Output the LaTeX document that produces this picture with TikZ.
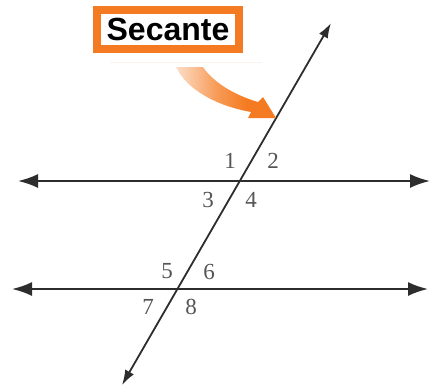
\documentclass[tikz,border=0pt]{standalone}
\usepackage{fontspec}
\setmainfont{Liberation Serif}
\newfontfamily\labfont{Liberation Sans}
\usetikzlibrary{arrows.meta}
\definecolor{secorange}{RGB}{245,123,34}
\definecolor{linegray}{RGB}{45,45,45}
\definecolor{numgray}{RGB}{85,85,85}
\pgfdeclarehorizontalshading{arrowfade}{100bp}{color(0bp)=(secorange!3!white); color(25bp)=(secorange!25!white); color(45bp)=(secorange!75!white); color(60bp)=(secorange); color(100bp)=(secorange)}
\tikzset{
  parline/.style={draw=linegray, line width=2pt, {Latex[length=20pt,width=14pt]}-{Latex[length=20pt,width=14pt]}},
  secline/.style={draw=linegray, line width=1.8pt, {Latex[length=15pt,width=10pt]}-{Latex[length=15pt,width=10pt]}},
  num/.style={text=numgray, font=\fontsize{23}{23}\selectfont, inner sep=0pt},
  labelbox/.style={draw=secorange, line width=8pt, fill=white, inner sep=0pt, minimum width=142pt, minimum height=39pt, font=\labfont\bfseries\fontsize{32}{32}\selectfont}
}
\begin{document}
\begin{tikzpicture}[x=1pt,y=-1pt]
\useasboundingbox (0,0) rectangle (431,389);
% parallel lines
\coordinate (aL) at (18,181);
\coordinate (aR) at (430,181);
\coordinate (bL) at (12,289);
\coordinate (bR) at (428,289);
\draw[parline] (aL) -- (aR);
\draw[parline] (bL) -- (bR);
% secant
\coordinate (sT) at (331,23);
\coordinate (sB) at (122,385);
\draw[secline] (sB) -- (sT);
% angle numbers
\node[num] (n1) at (230,161) {1};
\node[num] (n2) at (273,161) {2};
\node[num] (n3) at (208,200) {3};
\node[num] (n4) at (251,200) {4};
\node[num] (n5) at (167,271) {5};
\node[num] (n6) at (209,272) {6};
\node[num] (n7) at (148,307) {7};
\node[num] (n8) at (191,307) {8};
% label
\node[labelbox] (lab) at (168,29.5) {Secante};
\coordinate (fa) at (110,62);
\coordinate (fb) at (262,62);
\draw[secorange!10, line width=1pt] (fa) -- (fb);
% curved orange arrow
\shade[shading=arrowfade] (176,67) .. controls (187,90) and (217,106) .. (251,112)
  -- (248,118) -- (276,118) -- (263,97) -- (258,102)
  .. controls (234,95) and (213,82) .. (203,67) -- cycle;
\end{tikzpicture}
\end{document}
